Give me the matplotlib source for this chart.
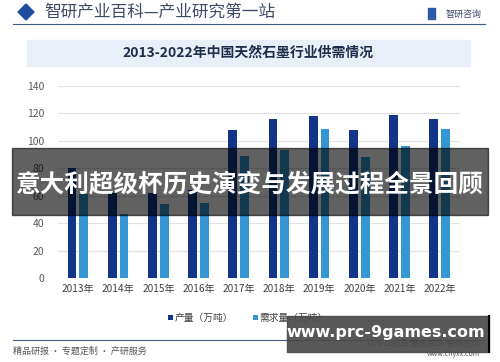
import matplotlib
matplotlib.use("Agg")
import matplotlib.pyplot as plt
from matplotlib.patches import Rectangle, Polygon
import numpy as np

plt.rcParams['font.family'] = ['Noto Sans CJK SC', 'DejaVu Sans']

years = ['2013年', '2014年', '2015年', '2016年', '2017年', '2018年', '2019年', '2020年', '2021年', '2022年']
production = [80, 62, 62, 64, 108, 116, 118, 108, 119, 116]
demand = [61, 47, 54, 55, 89, 93, 109, 88, 96, 109]
yticks = [0, 20, 40, 60, 80, 100, 120, 140]
series_names = ['产量（万吨）', '需求量（万吨）']
title = '2013-2022年中国天然石墨行业供需情况'
header = '智研产业百科—产业研究第一站'
footer = '精品研报 · 专题定制 · 产研服务'
banner = '意大利超级杯历史演变与发展过程全景回顾'
site = 'www.prc-9games.com'

W, H = 500, 362
fig = plt.figure(figsize=(W / 100, H / 100), dpi=100)
fig.patch.set_facecolor('white')

def fx(x):
    return x / W

def fy(y):
    return 1 - y / H

c_prod = '#12358a'
c_dem = '#3497d4'

ax = fig.add_axes([fx(58), fy(278), fx(460) - fx(58), fy(86) - fy(278)])
x = np.arange(len(years))
bw = 0.22
ax.bar(x - 0.15, production, bw, color=c_prod, label=series_names[0], zorder=3)
ax.bar(x + 0.14, demand, bw, color=c_dem, label=series_names[1], zorder=3)
ax.set_xlim(-0.5, len(years) - 0.5)
ax.set_ylim(0, 140)
ax.set_yticks(yticks)
ax.set_yticklabels([str(v) for v in yticks], fontsize=7.5, color='#595959')
ax.set_xticks(x)
ax.set_xticklabels(years, fontsize=7.3, color='#404040')
ax.grid(axis='y', color='#e3e3e3', linewidth=0.9, zorder=0)
for s in ax.spines.values():
    s.set_visible(False)
ax.tick_params(length=0, pad=4)
ax.tick_params(axis='y', pad=10)
ax.set_axisbelow(True)

leg = fig.legend(handles=ax.containers, labels=series_names, loc='center',
                 bbox_to_anchor=(fx(248), fy(318)), ncol=2, frameon=False,
                 fontsize=7, handlelength=0.5, handleheight=0.5, handletextpad=0.2,
                 columnspacing=2.0)
for t in leg.get_texts():
    t.set_color('#404040')

# header
fig.patches.append(Polygon([[fx(18), fy(12)], [fx(26), fy(4)], [fx(34), fy(12)], [fx(26), fy(20)]],
                           closed=True, transform=fig.transFigure, color='#1f4e9c', zorder=5))
fig.text(fx(44), fy(12), header, fontsize=12, color='#3d4a66', va='center', ha='left')
fig.patches.append(Rectangle((fx(428), fy(19)), fx(7), fy(8) - fy(19), transform=fig.transFigure,
                             color='#2a5aa8', zorder=5))
fig.text(fx(482), fy(14), '智研咨询', fontsize=6.5, color='#3d4a66', va='center', ha='right')
fig.add_artist(plt.Line2D([fx(13), fx(485)], [fy(24), fy(24)], color='#3c5a8a', linewidth=0.8))

# title band
fig.patches.append(Rectangle((fx(27), fy(66)), fx(470) - fx(27), fy(40) - fy(66),
                             transform=fig.transFigure, color='#e9eff8', zorder=1))
fig.text(fx(248), fy(53), title, fontsize=10, color='#1f2d4d', va='center', ha='center',
         fontweight='bold')

# footer
fig.add_artist(plt.Line2D([fx(13), fx(485)], [fy(340), fy(340)], color='#3c5a8a', linewidth=0.8))
fig.text(fx(13), fy(351), footer, fontsize=6.5, color='#555555', va='center', ha='left')
fig.text(fx(480), fy(343), '以专业报告 服务百业 智研咨询', fontsize=6, color='#555555', va='center', ha='right')
fig.text(fx(480), fy(354), 'www.chyxx.com', fontsize=5, color='#555555', va='center', ha='right')

# overlays
fig.patches.append(Rectangle((fx(12), fy(215)), fx(488) - fx(12), fy(148) - fy(215),
                             transform=fig.transFigure, color='black', alpha=0.62, zorder=10))
fig.text(fx(249), fy(184), banner, fontsize=17.7, color='white', fontweight='bold',
         va='center', ha='center', zorder=11)
fig.patches.append(Rectangle((fx(287), fy(352)), fx(489) - fx(287), fy(316) - fy(352),
                             transform=fig.transFigure, color='#4a4a4a', alpha=0.92, zorder=10))
fig.add_artist(plt.Line2D([fx(489), fx(489)], [fy(316), fy(352)], color='black', linewidth=1.5, zorder=11))
fig.text(fx(386), fy(333), site, fontsize=11.5, color='white', fontweight='bold',
         va='center', ha='center', zorder=11, family=['DejaVu Sans'])

fig.savefig('out.png', dpi=100)
